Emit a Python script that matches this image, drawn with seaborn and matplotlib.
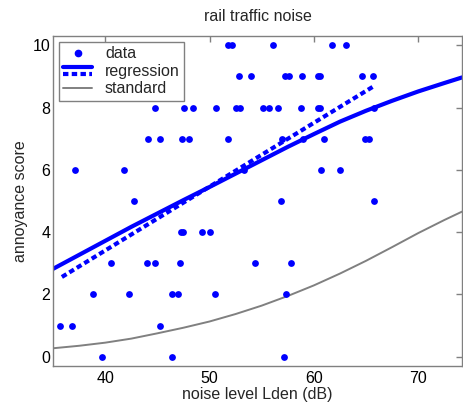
import numpy as np
import pandas as pd
import matplotlib
matplotlib.use("Agg")
import matplotlib.pyplot as plt
from matplotlib.lines import Line2D
from matplotlib.legend_handler import HandlerBase
import seaborn as sns

# --- data ---
# scatter: noise level (dB) and annoyance score, grouped by score level
level_10 = [51.8, 52.2, 56.1, 61.7, 63.1]
level_9 = [52.8, 54.0, 57.2, 57.65, 58.9, 60.4, 60.6, 64.6, 65.7]
level_8 = [44.8, 47.6, 48.4, 50.65, 52.5, 52.9, 55.1, 55.7, 56.6, 58.8, 60.4, 60.6, 65.75]
level_7 = [44.1, 45.3, 47.4, 48.0, 51.8, 56.9, 59.0, 61.0, 64.9, 65.3]
level_6 = [37.1, 41.8, 53.3, 60.7, 62.5]
level_5 = [42.8, 56.8, 65.75]
level_4 = [47.3, 47.5, 49.3, 50.0]
level_3 = [40.6, 44.0, 44.8, 47.2, 54.4, 57.8]
level_2 = [38.8, 42.3, 46.4, 47.0, 50.5, 57.3]
level_1 = [35.7, 36.85, 45.3]
level_0 = [39.7, 46.4, 57.1]
score_groups = {10: level_10, 9: level_9, 8: level_8, 7: level_7, 6: level_6,
                5: level_5, 4: level_4, 3: level_3, 2: level_2, 1: level_1, 0: level_0}

# linear regression (dashed), endpoints
lin_x = [35.85, 65.7]
lin_y = [2.56, 8.68]

# curved regression (solid)
curve_x = [35, 37.5, 40, 42.5, 45, 47.5, 50, 52.5, 55, 57.5, 60, 62.5, 65, 67.5, 70, 72.5, 74.2]
curve_y = [2.82, 3.27, 3.72, 4.17, 4.60, 5.03, 5.45, 5.88, 6.31, 6.74, 7.15, 7.55, 7.90, 8.22, 8.52, 8.79, 8.97]

# standard curve (gray)
std_x = [35, 37.5, 40, 42.5, 45, 47.5, 50, 52.5, 55, 57.5, 60, 62.5, 65, 67.5, 70, 72.5, 74.2]
std_y = [0.27, 0.35, 0.45, 0.58, 0.75, 0.93, 1.13, 1.37, 1.64, 1.95, 2.29, 2.67, 3.08, 3.52, 3.97, 4.39, 4.66]

rows = [(x, s) for s, xs in score_groups.items() for x in xs]
df = pd.DataFrame(rows, columns=["noise", "score"])

sns.set_theme(style="white")
plt.rcParams["font.family"] = ["Liberation Sans", "DejaVu Sans"]
plt.rcParams["font.size"] = 11.5

fig = plt.figure(figsize=(4.63, 4.07), dpi=100)
ax = fig.add_axes([0.1145, 0.1007, 0.8835, 0.8108])

BLUE = "#0000ff"
GRAY = "#808080"

sns.lineplot(x=std_x, y=std_y, ax=ax, color=GRAY, lw=1.4, sort=False, estimator=None)
sns.lineplot(x=curve_x, y=curve_y, ax=ax, color=BLUE, lw=3, sort=False, estimator=None)
sns.lineplot(x=lin_x, y=lin_y, ax=ax, color=BLUE, lw=3, sort=False, estimator=None,
             dashes=False).lines[-1].set_dashes([1.3, 0.8])
sns.scatterplot(data=df, x="noise", y="score", ax=ax, color=BLUE, s=24,
                linewidth=0, zorder=5)

ax.set_xlim(35, 74.2)
ax.set_ylim(-0.3, 10.3)
ax.set_xticks([40, 50, 60, 70])
ax.set_yticks([0, 2, 4, 6, 8, 10])
ax.tick_params(direction="in", length=4, width=1, color=GRAY, labelsize=11.5,
               top=True, right=True, labelcolor="black")
ax.tick_params(axis="x", pad=3.5)
ax.tick_params(axis="y", pad=2)
for sp in ax.spines.values():
    sp.set_color(GRAY)
    sp.set_linewidth(1)

ax.set_xlabel("noise level Lden (dB)", fontsize=11.5, labelpad=1)
ax.set_ylabel("annoyance score", fontsize=11.5, labelpad=3)
ax.set_title("rail traffic noise", fontsize=11.5, pad=11)


class RegressionHandler(HandlerBase):
    # solid line over dashed line, as in the reference legend
    def create_artists(self, legend, orig_handle, xdescent, ydescent,
                       width, height, fontsize, trans):
        top = Line2D([0, width], [0.75 * height] * 2, color=BLUE, lw=3)
        bot = Line2D([0, width], [0.2 * height] * 2, color=BLUE, lw=3,
                     dashes=[1.3, 0.8])
        top.set_transform(trans)
        bot.set_transform(trans)
        return [top, bot]


h_data = Line2D([], [], ls="none", marker="o", ms=4.5, color=BLUE, mec=BLUE)
h_reg = Line2D([], [], color=BLUE, lw=3)
h_std = Line2D([], [], color=GRAY, lw=1.4)
leg = ax.legend([h_data, h_reg, h_std], ["data", "regression", "standard"],
                loc="upper left", fontsize=11.5, frameon=True, fancybox=False,
                framealpha=1, edgecolor=GRAY, borderaxespad=0.35,
                handlelength=1.8, handletextpad=0.8, borderpad=0.3,
                labelspacing=0.15, handler_map={h_reg: RegressionHandler()})
leg.get_frame().set_linewidth(1)

fig.savefig("out.png", dpi=100)
